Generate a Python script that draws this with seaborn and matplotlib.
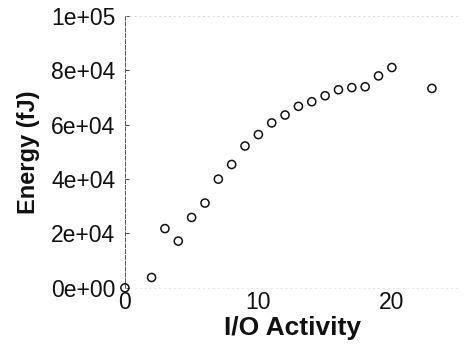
import matplotlib
matplotlib.use("Agg")
import matplotlib.pyplot as plt
import seaborn as sns
import pandas as pd

io_activity = [0, 2, 3, 4, 5, 6, 7, 8, 9, 10, 11, 12, 13, 14, 15, 16, 17, 18, 19, 20, 23]
energy_fj = [0, 3800, 21800, 17200, 25900, 31200, 40000, 45400, 52200, 56400,
             60700, 63600, 66800, 68500, 70700, 72900, 73700, 74000, 78000, 81100, 73400]
x_ticks = [0, 10, 20]
y_ticks = [0, 20000, 40000, 60000, 80000, 100000]
y_tick_labels = ["0e+00", "2e+04", "4e+04", "6e+04", "8e+04", "1e+05"]

df = pd.DataFrame({"I/O Activity": io_activity, "Energy (fJ)": energy_fj})

sns.set_style("white")
plt.rcParams['font.family'] = ['Liberation Sans', 'DejaVu Sans']

fig = plt.figure(figsize=(4.66, 3.51), dpi=100)
ax = fig.add_axes([0.268, 0.180, 0.719, 0.774])

sns.scatterplot(data=df, x="I/O Activity", y="Energy (fJ)", ax=ax,
                marker="o", s=34, facecolor="none", edgecolor="#111111",
                linewidth=1.1, clip_on=False, zorder=3)

ax.set_xlim(0, 25.1)
ax.set_ylim(0, 100000)
ax.set_xticks(x_ticks)
ax.set_xticklabels([str(v) for v in x_ticks])
ax.set_yticks(y_ticks)
ax.set_yticklabels(y_tick_labels)

ax.tick_params(axis="both", labelsize=16.5, colors="#222222", labelcolor="#111111")
ax.tick_params(axis="y", length=3, width=0.6, pad=7, direction="in", left=True)
ax.tick_params(axis="x", length=0, pad=2, bottom=True)

ax.spines["right"].set_visible(False)
ax.spines["left"].set_linestyle((0, (4, 2)))
ax.spines["left"].set_color("#555555")
ax.spines["left"].set_linewidth(0.7)
ax.spines["top"].set_linestyle((0, (2, 5)))
ax.spines["top"].set_color("#cccccc")
ax.spines["top"].set_linewidth(0.5)
ax.spines["bottom"].set_linestyle((0, (2, 5)))
ax.spines["bottom"].set_color("#dddddd")
ax.spines["bottom"].set_linewidth(0.5)

ax.set_xlabel("I/O Activity", fontsize=19, fontweight="bold", color="#111111", labelpad=2)
ax.set_ylabel("Energy (fJ)", fontsize=17, fontweight="bold", color="#111111", labelpad=8)

fig.savefig("out.png", dpi=100)
